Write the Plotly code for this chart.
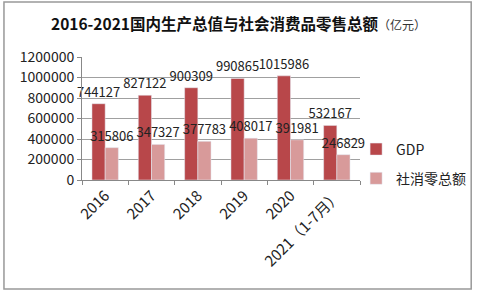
import plotly.graph_objects as go

categories = ["2016", "2017", "2018", "2019", "2020", "2021（1-7月）"]
gdp = [744127, 827122, 900309, 990865, 1015986, 532167]
retail = [315806, 347327, 377783, 408017, 391981, 246829]
series_names = ["GDP", "社消零总额"]

FONT = "Noto Sans CJK SC, DejaVu Sans, sans-serif"

fig = go.Figure()
fig.add_bar(x=categories, y=gdp, name=series_names[0], marker_color="#B8474A",
            legendgroup="a",
            text=[str(v) for v in gdp], textposition="outside", cliponaxis=False,
            constraintext="none", textfont=dict(size=13, color="#222"))
fig.add_bar(x=categories, y=retail, name=series_names[1], marker_color="#D89A9A",
            legendgroup="b",
            text=[str(v) for v in retail], textposition="outside", cliponaxis=False,
            constraintext="none", textfont=dict(size=13, color="#222"))

L, R, T, B = 82, 367, 57, 180
W, H = 483, 291
pw, ph = R - L, B - T

def px(x):
    return (x - L) / pw

def py(y):
    return (B - y) / ph

fig.update_layout(
    width=W, height=H,
    margin=dict(l=L, r=W - R, t=T, b=H - B),
    paper_bgcolor="white", plot_bgcolor="white",
    font=dict(family=FONT, color="#222"),
    barmode="group", bargap=0.43, bargroupgap=0,
    showlegend=True,
    legend=dict(x=px(363), y=py(164), xanchor="left", yanchor="middle",
                font=dict(size=14, color="#222"), itemwidth=30, tracegroupgap=8,
                traceorder="grouped", bgcolor="rgba(0,0,0,0)"),
    title=dict(text="<b>2016-2021国内生产总值与社会消费品零售总额</b><span style='font-size:12px;color:#333'>（亿元）</span>",
               x=238.5 / W, xanchor="center", y=1 - 25 / H, yanchor="middle",
               font=dict(size=15.5, color="#111")),
    xaxis=dict(type="category", showline=True, linecolor="#888", tickson="boundaries",
               ticks="outside", ticklen=4, tickcolor="#888", tickangle=-45,
               tickfont=dict(size=15, color="#222"), showgrid=False),
    yaxis=dict(range=[0, 1200000], dtick=200000, showline=True, linecolor="#888",
               ticks="outside", ticklen=4, tickcolor="#888", showgrid=True,
               gridcolor="#A0A0A0", gridwidth=1, tickformat="d",
               tickfont=dict(size=14, color="#222"), zeroline=False),
    shapes=[dict(type="rect", xref="paper", yref="paper",
                 x0=px(2), x1=px(481), y0=py(289), y1=py(2),
                 line=dict(color="#999", width=1.5), layer="below")],
)

fig.write_html("out.html")
